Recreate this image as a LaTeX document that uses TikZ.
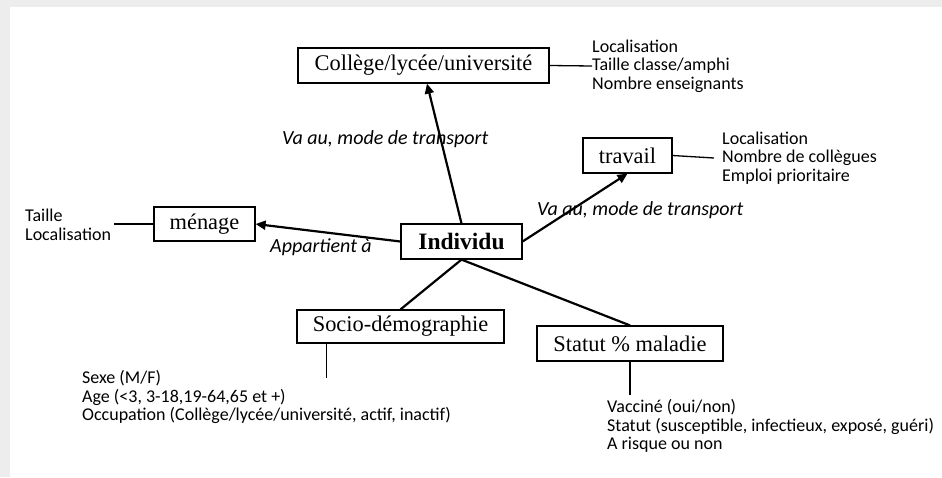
\documentclass[tikz,border=0pt]{standalone}
\usepackage{fontspec}
\setmainfont{Liberation Serif}
\newfontfamily\calfont{Carlito}
\usetikzlibrary{calc,arrows.meta}
\begin{document}
\begin{tikzpicture}[x=1pt,y=-1pt,
  box/.style={draw, line width=1.2pt, minimum height=35pt, inner sep=0pt,
    font=\fontsize{22.4}{24}\selectfont},
  list/.style={align=left, anchor=west, inner sep=0pt,
    font=\calfont\fontsize{18}{18.5}\selectfont},
  lab/.style={anchor=west, inner sep=0pt, font=\calfont\itshape\fontsize{20}{22}\selectfont},
  link/.style={line width=2.2pt},
  arr/.style={line width=2.2pt, -{Triangle[length=10pt,width=9pt]}},
  side/.style={line width=1.3pt}]
\useasboundingbox (0,0) rectangle (942,477);
\fill[black!7] (0,0) rectangle (942,477);
\fill[white] (10,7) rectangle (942,477);

% boxes
\node[box, minimum width=251pt] (col) at (423.5,65.5) {Collège/lycée/université};
\node[box, minimum width=89pt] (trav) at (627.5,155.5) {travail};
\node[box, minimum width=101pt, minimum height=34pt] (men) at (204.5,224) {ménage};
\node[box, minimum width=121pt, font=\bfseries\fontsize{23.5}{25}\selectfont] (ind) at (461.5,241.5) {Individu};
\node[box, minimum width=207pt, minimum height=33pt] (soc) at (400.5,326.5) {Socio-démographie};
\node[box, minimum width=186pt] (stat) at (630,343.5) {Statut \% maladie};

% attribute lists
\node[list] (colL) at (592,66) {Localisation\\Taille classe/amphi\\Nombre enseignants};
\node[list] (travL) at (722,158) {Localisation\\Nombre de collègues\\Emploi prioritaire};
\node[list] (menL) at (25,225) {Taille\\Localisation};
\node[list] (socL) at (82,397) {Sexe (M/F)\\Age (<3, 3-18,19-64,65 et +)\\Occupation (Collège/lycée/université, actif, inactif)};
\node[list] (statL) at (607,426) {Vacciné (oui/non)\\Statut (susceptible, infectieux, exposé, guéri)\\A risque ou non};

% side lines
\draw[side] (col.east) -- (colL.west);
\draw[side] (trav.east) -- ($(travL.west)+(-8,0)$);
\draw[side] (men.west) -- ($(men.west)+(-39,0)$);
\draw[side] ($(soc.south west)+(30,0)$) -- ++(0,34);
\draw[side] (stat.south) -- ++(0,33);

% labels
\node[lab] (l1) at (282,139) {Va au, mode de transport};
\node[lab] (l2) at (537,210) {Va au, mode de transport};
\node[lab] (l3) at (270,247) {Appartient à};

% connectors
\draw[arr] (ind.north) -- ($(col.south)+(3.5,0)$);
\draw[arr] (ind.east) -- (trav.south);
\draw[arr] (ind.west) -- (men.east);
\draw[link] (ind.south) -- (soc.north);
\draw[link] (ind.south) -- (stat.north);
\end{tikzpicture}
\end{document}
